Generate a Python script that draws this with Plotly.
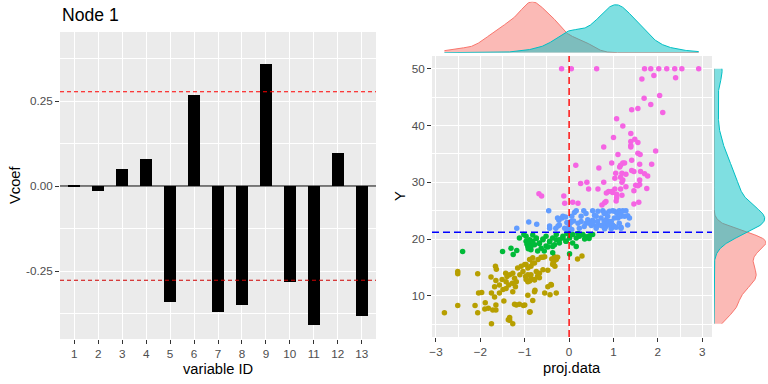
import numpy as np
import plotly.graph_objects as go

# ---------------- data ----------------
var_id = list(range(1, 14))
vcoef = [0.001, -0.014, 0.049, 0.079, -0.340, 0.268, -0.370, -0.350, 0.359, -0.281, -0.408, 0.097, -0.381]
cut_value = 0.2774
y_split = 21.2

gold_pts = [
(-2.81,7.0),(-2.51,14.3),(-2.51,13.9),(-2.51,8.3),(-2.06,13.9),(-2.04,10.5),(-1.97,10.6),(-2.12,8.3),(-2.06,7.0),
(-1.89,8.8),(-1.82,7.8),(-1.72,7.5),(-1.65,7.5),(-1.90,7.7),(-1.75,5.1),(-1.75,10.5),(-1.68,9.8),(-1.65,8.4),(-1.76,13.3),(-1.66,15.2),(-1.64,14.7),
(-1.65,12.7),(-1.57,11.9),(-1.68,11.6),(-1.57,10.5),(-1.49,11.1),(-1.47,9.1),
(-1.43,14.0),(-1.40,13.4),(-1.34,13.7),(-1.27,14.0),(-1.23,13.1),(-1.51,12.9),(-1.42,12.5),(-1.36,11.9),(-1.28,12.2),(-1.19,12.5),(-1.42,11.3),(-1.27,10.7),(-1.21,11.6),
(-1.34,6.2),(-1.34,5.7),(-1.27,5.1),(-1.37,5.8),(-1.19,8.4),(-1.12,8.5),(-1.00,8.4),(-0.89,7.1),(-1.23,8.5),
(-1.16,14.9),(-1.08,15.2),(-1.00,15.5),(-1.04,14.3),(-0.93,13.7),(-0.86,13.1),(-0.78,12.8),(-0.93,12.5),(-1.11,13.7),(-0.98,13.4),
(-0.86,15.2),(-0.78,15.8),(-0.70,16.4),(-0.63,16.8),(-0.55,16.9),(-0.74,14.3),(-0.67,14.0),(-0.59,14.6),(-0.48,14.5),(-0.82,15.8),(-0.97,15.5),
(-0.93,14.9),(-0.82,16.7),(-0.59,16.8),(-0.89,16.4),(-0.71,13.5),(-0.67,13.2),(-0.78,12.9),(-0.89,12.6),(-0.97,12.9),(-0.86,13.7),
(-0.78,10.7),(-0.93,10.1),(-0.82,9.2),(-0.55,10.5),(-0.48,11.6),(-0.77,11.0),(-0.41,12.0),
(-0.36,15.8),(-0.29,16.4),(-0.33,16.9),(-0.37,15.5),(-0.26,16.8),(-0.39,16.5),(-0.35,15.9),(-0.32,15.2),
(-0.40,11.9),(-0.29,10.5),(-0.43,10.2),(-0.88,7.2),(-1.03,8.3),
(0.19,16.5),(0.29,17.0)
]

green_pts = [
(-2.40,17.8),(-1.50,17.8),(-1.31,18.4),(-1.26,17.3),(-1.18,18.0),(-1.12,20.2),(-1.02,20.8),(-0.97,19.6),(-0.95,19.1),(-0.92,18.3),
(-0.97,20.5),(-0.93,18.7),(-0.89,19.9),(-0.89,19.3),(-0.86,18.1),(-0.86,18.7),(-0.82,20.7),(-0.82,19.6),(-0.78,19.0),(-0.74,20.2),
(-0.74,20.1),(-0.71,17.9),(-0.67,19.3),(-0.67,19.2),(-0.63,18.4),(-0.59,19.9),(-0.59,20.0),(-0.56,17.9),(-0.52,20.5),(-0.52,18.8),
(-0.48,18.6),(-0.44,19.6),(-0.44,19.5),(-0.37,20.2),(-0.37,17.6),(-0.37,18.7),(-0.33,19.0),(-0.29,20.8),(-0.29,19.9),(-0.22,19.9),
(-0.22,19.3),(-0.14,20.5),(-0.14,20.2),(-0.07,19.6),(-0.07,19.6),(0.01,20.2),(0.01,17.4),(0.08,20.8),(0.08,19.3),(0.16,20.2),
(0.16,18.7),(0.23,20.5),(0.31,20.8),(0.38,20.4),(0.46,20.6),(0.53,20.8),(0.45,20.1),(0.35,20.0),(-0.05,21.0),(0.20,21.0)
]

blue_pts = [
(-1.18,21.9),(-0.91,23.0),(-0.73,22.6),(-0.46,25.0),(-0.44,22.3),(-0.44,21.9),(-0.26,23.7),(-0.25,22.3),(-0.23,23.3),(-0.16,23.7),
(-0.14,24.0),(-0.10,21.9),(-0.08,23.9),(-0.05,22.9),(-0.03,21.6),(-0.30,21.9),(-0.22,22.5),
(0.00,22.2),(0.04,23.1),(0.04,22.9),(0.06,24.0),(0.06,21.7),(0.10,23.2),(0.12,24.7),(0.16,25.0),(0.20,22.8),(0.23,21.9),(0.27,23.1),
(0.27,24.0),(0.33,25.0),(0.34,22.2),(0.38,24.5),(0.38,22.8),(0.42,23.4),(0.46,22.8),(0.50,22.4),(0.53,23.3),(0.53,25.0),(0.53,22.8),
(0.57,24.2),(0.61,22.2),(0.61,24.0),(0.61,21.9),(0.64,23.1),(0.65,24.9),(0.65,22.5),(0.72,23.7),(0.72,22.4),(0.76,25.0),(0.76,22.3),
(0.79,24.5),(0.79,23.1),(0.80,21.8),(0.83,24.6),(0.83,23.4),(0.83,22.2),(0.87,24.0),(0.87,22.8),(0.91,24.9),(0.91,23.1),(0.91,22.5),
(0.95,23.1),(0.95,21.8),(0.98,25.0),(0.98,22.5),(1.02,24.9),(1.02,23.7),(1.02,22.2),(1.06,22.1),(1.08,24.5),(1.10,23.7),(1.13,25.0),
(1.13,22.8),(1.17,24.0),(1.17,24.3),(1.17,21.9),(1.21,25.0),(1.25,24.0),(1.28,25.0),(1.32,22.5),(1.32,24.1),(1.36,23.7),(1.17,22.1)
]

pink_pts = [
(-0.17,50),(0.05,50),(0.62,50),(1.70,50),(1.84,50),(2.02,50),(2.20,50),(2.38,50),(2.54,50),(2.92,50),
(1.64,48.2),(1.91,48.8),(2.40,48.4),
(1.69,44.8),(2.04,45.3),(1.84,43.7),(2.11,42.3),(1.41,42.8),(1.55,43.0),
(1.07,41.2),(1.21,39.9),(1.00,37.9),(1.39,38.6),(1.48,37.6),(1.39,37.2),(1.55,37.0),(1.39,36.5),(1.39,36.2),(0.78,36.2),
(1.95,35.5),(1.55,35.1),(1.60,34.9),(1.10,34.9),(1.41,33.9),(0.96,33.4),(1.21,33.4),(1.25,33.4),(1.16,33.0),(1.14,32.7),(1.59,33.2),
(1.86,33.2),(0.15,33.0),(0.67,32.5),
(1.41,32.1),(1.46,31.9),(1.61,31.9),(1.05,31.6),(1.19,31.6),(1.28,31.4),(1.70,31.5),(1.77,31.1),(1.16,30.9),(1.03,30.7),(1.21,30.4),
(1.59,30.4),(1.19,30.0),(0.78,30.0),(0.40,30.0),(0.26,29.8),
(1.59,29.6),(1.55,29.4),(1.50,29.5),(1.28,29.2),(0.44,28.8),(0.65,28.8),(1.03,28.8),(1.16,28.8),(1.46,28.5),(1.75,28.9),(0.89,28.4),
(0.96,28.4),(0.84,28.1),(0.98,28.2),(1.07,27.9),(1.07,27.3),(1.19,27.7),
(-0.68,28.0),(-0.62,27.6),(-0.12,27.6),
(-0.10,26.3),(0.08,26.5),(0.20,26.3),(0.74,26.0),(0.80,26.4),(0.83,26.6),(1.06,26.7),(1.46,26.2),(1.57,26.5)
]

# ---------------- helpers ----------------
W, H = 768, 384
def px(xp):
    return xp / W
def py(yp):
    return 1 - yp / H

def kde(data, grid):
    data = np.asarray(data, float)
    n = len(data)
    sd = np.std(data, ddof=1)
    q75, q25 = np.percentile(data, [75, 25])
    bw = 0.9 * min(sd, (q75 - q25) / 1.34) * n ** (-0.2)
    z = (grid[:, None] - data[None, :]) / bw
    return np.exp(-0.5 * z ** 2).sum(axis=1) / (n * bw * np.sqrt(2 * np.pi))

def xs(p): return [a for a, b in p]
def ys(p): return [b for a, b in p]

low_x = xs(gold_pts) + xs(green_pts)
low_y = ys(gold_pts) + ys(green_pts)
high_x = xs(blue_pts) + xs(pink_pts)
high_y = ys(blue_pts) + ys(pink_pts)
all_x = low_x + high_x
all_y = low_y + high_y

gx = np.linspace(min(all_x), max(all_x), 512)
gy = np.linspace(min(all_y), max(all_y), 512)
dx_low, dx_high = kde(low_x, gx), kde(high_x, gx)
dy_low, dy_high = kde(low_y, gy), kde(high_y, gy)

RED, CYAN = "#F8766D", "#00BFC4"
RED_F, CYAN_F = "rgba(248,118,109,0.5)", "rgba(0,191,196,0.5)"
TICKFONT = dict(family="Liberation Sans, Arial", size=11.7, color="#4D4D4D")
PANEL = "#EBEBEB"

fig = go.Figure()

# ---- left: bar chart ----
fig.add_trace(go.Bar(x=var_id, y=vcoef, width=0.5, marker=dict(color="black", line=dict(width=0)),
                     xaxis="x", yaxis="y", showlegend=False))

# ---- right: scatter ----
for pts, col in [(gold_pts, "#B79F00"), (green_pts, "#00BA38"), (blue_pts, "#619CFF"), (pink_pts, "#F564E3")]:
    fig.add_trace(go.Scatter(x=xs(pts), y=ys(pts), mode="markers",
                             marker=dict(color=col, size=5.5, line=dict(width=0)),
                             xaxis="x2", yaxis="y2", showlegend=False))

# ---- top marginal ----
for d, lc, fc in [(dx_low, RED, RED_F), (dx_high, CYAN, CYAN_F)]:
    fig.add_trace(go.Scatter(x=gx, y=d, mode="lines", fill="tozeroy", fillcolor=fc,
                             line=dict(color=lc, width=1), xaxis="x3", yaxis="y3", showlegend=False))
# ---- right marginal ----
for d, lc, fc in [(dy_low, RED, RED_F), (dy_high, CYAN, CYAN_F)]:
    fig.add_trace(go.Scatter(x=d, y=gy, mode="lines", fill="tozerox", fillcolor=fc,
                             line=dict(color=lc, width=1), xaxis="x4", yaxis="y4", showlegend=False))

top_max = max(dx_low.max(), dx_high.max())
right_max = max(dy_low.max(), dy_high.max())

AX = dict(automargin=False, zeroline=False, showline=False, showgrid=True, gridcolor="white", gridwidth=1.1,
          ticks="outside", ticklen=4, tickcolor="#333333", tickwidth=1, tickfont=TICKFONT)
MINOR = dict(showgrid=True, gridcolor="white", gridwidth=0.55, ticks="")

fig.update_layout(
    width=W, height=H, margin=dict(l=0, r=0, t=0, b=0, autoexpand=False),
    paper_bgcolor="white", plot_bgcolor="white",
    font=dict(family="Liberation Sans, Arial", color="black"),
    bargap=0,
    xaxis=dict(AX, domain=[px(60), px(376)], range=[0.4, 13.6], tickvals=var_id, ticktext=[str(v) for v in var_id]),
    yaxis=dict(AX, domain=[py(339), py(32)], range=[-0.45, 0.453], tickvals=[-0.25, 0, 0.25],
               ticktext=["-0.25", "0.00", "0.25"], minor=dict(MINOR, tickvals=[-0.375, -0.125, 0.125, 0.375])),
    xaxis2=dict(AX, domain=[px(432), px(712)], range=[-3.09, 3.22], tickvals=[-3, -2, -1, 0, 1, 2, 3], anchor="y2",
                minor=dict(MINOR, tickvals=[-2.5, -1.5, -0.5, 0.5, 1.5, 2.5])),
    yaxis2=dict(AX, domain=[py(337), py(56)], range=[2.75, 52.25], tickvals=[10, 20, 30, 40, 50], anchor="x2",
                minor=dict(MINOR, tickvals=[5, 15, 25, 35, 45])),
    xaxis3=dict(domain=[px(432), px(712)], range=[-3.09, 3.22], anchor="y3", visible=False, automargin=False),
    yaxis3=dict(domain=[py(52.7), py(1.7)], range=[0, top_max], anchor="x3", visible=False, automargin=False),
    xaxis4=dict(domain=[px(714), px(766)], range=[0, right_max], anchor="y4", visible=False, automargin=False),
    yaxis4=dict(domain=[py(337), py(56)], range=[2.75, 52.25], anchor="x4", visible=False, automargin=False),
)

# panel backgrounds
for xr, yr in [("x domain", "y domain"), ("x2 domain", "y2 domain")]:
    fig.add_shape(type="rect", xref=xr, yref=yr, x0=0, x1=1, y0=0, y1=1, fillcolor=PANEL, line=dict(width=0), layer="below")

# reference lines
fig.add_shape(type="line", xref="x domain", yref="y", x0=0, x1=1, y0=0, y1=0, line=dict(color="black", width=1.1), layer="above")
fig.add_shape(type="line", xref="x domain", yref="y", x0=0, x1=1, y0=cut_value, y1=cut_value,
              line=dict(color="red", width=1.1, dash="4px,3px"), layer="above")
fig.add_shape(type="line", xref="x domain", yref="y", x0=0, x1=1, y0=-cut_value, y1=-cut_value,
              line=dict(color="#D00000", width=1.1, dash="4px,3px"), layer="above")
fig.add_shape(type="line", xref="x2", yref="y2 domain", x0=0, x1=0, y0=0, y1=1,
              line=dict(color="red", width=1.4, dash="7px,4px"), layer="above")
fig.add_shape(type="line", xref="x2 domain", yref="y2", x0=0, x1=1, y0=y_split, y1=y_split,
              line=dict(color="blue", width=1.4, dash="7px,4px"), layer="above")

# titles
TF = dict(family="Liberation Sans, Arial", size=14.7, color="black")
fig.add_annotation(text="Node 1", x=px(60), y=py(15), xref="paper", yref="paper", xanchor="left", yanchor="middle",
                   showarrow=False, font=dict(family="Liberation Sans, Arial", size=17.6, color="black"))
fig.add_annotation(text="variable ID", x=px(218), y=py(369), xref="paper", yref="paper", xanchor="center", yanchor="middle",
                   showarrow=False, font=TF)
fig.add_annotation(text="Vcoef", x=px(15), y=py(185), xref="paper", yref="paper", xanchor="center", yanchor="middle",
                   showarrow=False, textangle=-90, font=TF)
fig.add_annotation(text="proj.data", x=px(572), y=py(368), xref="paper", yref="paper", xanchor="center", yanchor="middle",
                   showarrow=False, font=TF)
fig.add_annotation(text="Y", x=px(400), y=py(196), xref="paper", yref="paper", xanchor="center", yanchor="middle",
                   showarrow=False, textangle=-90, font=TF)

fig.write_html("out.html", config={"displayModeBar": False},
               post_script="document.body.style.margin='0px';document.body.style.padding='0px';")
